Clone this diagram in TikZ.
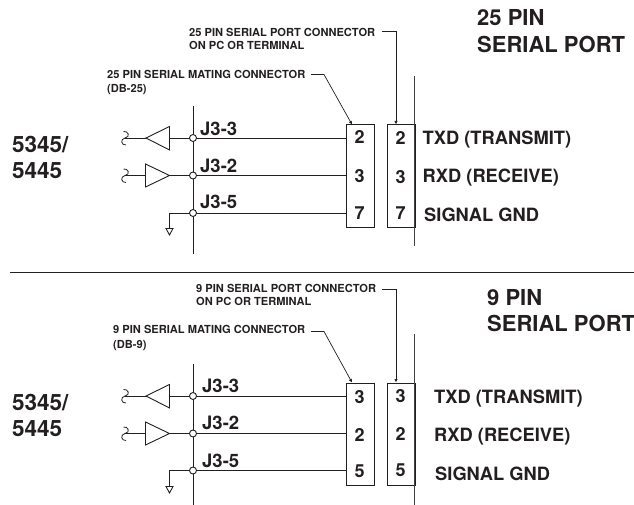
\documentclass[tikz,border=0pt]{standalone}
\usepackage{fontspec}
\setmainfont{TeX Gyre Heros}
\usetikzlibrary{arrows.meta}
\definecolor{ink}{HTML}{231F20}
\tikzset{
  wire/.style={draw=ink,line width=0.9pt},
  lbl/.style={font=\bfseries\fontsize{#1}{#1}\selectfont,text=ink,inner sep=0pt,anchor=west,text height=0.72*#1 pt,text depth=0pt},
  pinbox/.style={draw=ink,line width=0.9pt,anchor=north west,minimum width=27.5pt,minimum height=102pt,inner sep=0pt},
  jdot/.style={circle,draw=ink,fill=white,line width=0.9pt,minimum size=7pt,inner sep=0pt},
  amp/.style={draw=ink,line width=0.9pt,fill=white,line join=miter},
  lead/.style={draw=ink,line width=0.7pt,-{Latex[length=3.5pt,width=3.5pt]}},
}
\newcommand{\squig}[1]{\draw[wire,line width=0.8pt,shift={(#1)}] (-1.5,-6.5) .. controls (3,-7.5) and (6,-1) .. (0,0) .. controls (-5,1) and (-4,7.5) .. (1,7);}
\begin{document}
\begin{tikzpicture}[x=1pt,y=-1pt]
\useasboundingbox (0,0) rectangle (634,505);
% ---------- top panel
\node[lbl=22] (ta1) at (477,18) {25 PIN};
\node[lbl=22] (ta2) at (477,44.5) {SERIAL PORT};
\node[lbl=22.5] (ma1) at (12,144) {5345/};
\node[lbl=22.5] (ma2) at (12,170) {5445};
\node[lbl=11.1] (pc1) at (189,33) {25 PIN SERIAL PORT CONNECTOR};
\node[lbl=11.1] (pc2) at (189,46) {ON PC OR TERMINAL};
\node[lbl=11.1] (mc1) at (107,75) {25 PIN SERIAL MATING CONNECTOR};
\node[lbl=11.1] (mc2) at (107,89) {(DB-25)};
\node[pinbox] (ba) at (346,124.5) {};
\node[pinbox] (bb) at (387,124.5) {};
\coordinate (bbtop) at (396,124.5);
\coordinate (batop) at (352,124.5);
\coordinate (la) at (382,31.5);
\coordinate (lb) at (396,31.5);
\coordinate (lc) at (311,74.5);
\coordinate (ld) at (324,74.5);
\draw[lead] (la) -- (lb) -- (bbtop);
\draw[lead] (lc) -- (ld) -- (batop);
\coordinate (bust) at (193,106);
\coordinate (busb) at (193,254);
\coordinate (pt) at (414,76);
\coordinate (pb) at (414,246);
\draw[wire] (bust) -- (busb);
\draw[wire,draw=ink!85] (pt) -- (pb);
\coordinate (ja) at (193,138);
\coordinate (jb) at (193,175.5);
\coordinate (jc) at (193,213);
\draw[wire] (ja) -- (ja -| ba.west);
\draw[wire] (jb) -- (jb -| ba.west);
\draw[wire] (jc) -- (jc -| ba.west);
\draw[wire] (125,138) -- (ja);
\draw[wire] (125,175.5) -- (jb);
\draw[amp] (146,138) -- (169.5,126.5) -- (169.5,150) -- cycle;
\draw[amp] (169.5,175.5) -- (145.5,164) -- (145.5,187) -- cycle;
\draw[wire] (jc) -- (169.5,213) -- (169.5,228);
\draw[amp] (166,228.5) -- (173,228.5) -- (169.5,235) -- cycle;
\squig{125,138}
\squig{125,175.5}
\node[jdot] (da) at (ja) {};
\node[jdot] (db) at (jb) {};
\node[jdot] (dc) at (jc) {};
\node[lbl=18.5] (ja3) at (200,129) {J3-3};
\node[lbl=18.5] (ja2) at (200,165.5) {J3-2};
\node[lbl=18.5] (ja5) at (200,201.5) {J3-5};
\node[lbl=18,anchor=center] (n1) at (359.5,137.5) {2};
\node[lbl=18,anchor=center] (n2) at (359.5,176) {3};
\node[lbl=18,anchor=center] (n3) at (359.5,213) {7};
\node[lbl=18,anchor=center] (n4) at (400.5,138) {2};
\node[lbl=18,anchor=center] (n5) at (400.5,177) {3};
\node[lbl=18,anchor=center] (n6) at (400.5,213) {7};
\node[lbl=18.3] (s1) at (422.5,138) {TXD (TRANSMIT)};
\node[lbl=18.3] (s2) at (422.5,176) {RXD (RECEIVE)};
\node[lbl=18.3] (s3) at (424,214.5) {SIGNAL GND};
% ---------- separator
\coordinate (sa) at (10,272);
\coordinate (sb) at (634,272);
\draw[wire] (sa) -- (sb);
% ---------- bottom panel
\node[lbl=22] (tb1) at (487,297.5) {9 PIN};
\node[lbl=22] (tb2) at (487,324) {SERIAL PORT};
\node[lbl=22.5] (mb1) at (12,402) {5345/};
\node[lbl=22.5] (mb2) at (12,428) {5445};
\node[lbl=11.1] (qc1) at (196,289) {9 PIN SERIAL PORT CONNECTOR};
\node[lbl=11.1] (qc2) at (196,302) {ON PC OR TERMINAL};
\node[lbl=11.1] (rc1) at (113,330) {9 PIN SERIAL MATING CONNECTOR};
\node[lbl=11.1] (rc2) at (113,344.5) {(DB-9)};
\node[pinbox] (ca) at (346,382.5) {};
\node[pinbox] (cb) at (387,382.5) {};
\coordinate (cbtop) at (396,382.5);
\coordinate (catop) at (352,382.5);
\coordinate (lk) at (382,289.5);
\coordinate (ll) at (396,289.5);
\coordinate (lm) at (311,331.5);
\coordinate (ln) at (324,331.5);
\draw[lead] (lk) -- (ll) -- (cbtop);
\draw[lead] (lm) -- (ln) -- (catop);
\coordinate (busc) at (193,364);
\coordinate (busd) at (193,505);
\coordinate (pc) at (414,334);
\coordinate (pd) at (414,505);
\draw[wire] (busc) -- (busd);
\draw[wire,draw=ink!85] (pc) -- (pd);
\coordinate (ka) at (193,396);
\coordinate (kb) at (193,433.5);
\coordinate (kc) at (193,470.5);
\draw[wire] (ka) -- (ka -| ca.west);
\draw[wire] (kb) -- (kb -| ca.west);
\draw[wire] (kc) -- (kc -| ca.west);
\draw[wire] (125,396) -- (ka);
\draw[wire] (125,433.5) -- (kb);
\draw[amp] (146,396) -- (169.5,384.5) -- (169.5,408) -- cycle;
\draw[amp] (169.5,433.5) -- (145.5,422) -- (145.5,445) -- cycle;
\draw[wire] (kc) -- (169.5,470.5) -- (169.5,486);
\draw[amp] (166,486.5) -- (173,486.5) -- (169.5,493) -- cycle;
\squig{125,396}
\squig{125,433.5}
\node[jdot] (ea) at (ka) {};
\node[jdot] (eb) at (kb) {};
\node[jdot] (ec) at (kc) {};
\node[lbl=18.5] (ka3) at (202,385.5) {J3-3};
\node[lbl=18.5] (ka2) at (202,423) {J3-2};
\node[lbl=18.5] (ka5) at (202,460.5) {J3-5};
\node[lbl=18,anchor=center] (o1) at (359.5,397) {3};
\node[lbl=18,anchor=center] (o2) at (359.5,435) {2};
\node[lbl=18,anchor=center] (o3) at (359.5,471.5) {5};
\node[lbl=18,anchor=center] (o4) at (400.5,396) {3};
\node[lbl=18,anchor=center] (o5) at (400.5,434) {2};
\node[lbl=18,anchor=center] (o6) at (400.5,470.5) {5};
\node[lbl=18.3] (u1) at (434,397) {TXD (TRANSMIT)};
\node[lbl=18.3] (u2) at (434,435) {RXD (RECEIVE)};
\node[lbl=18.3] (u3) at (435,473.5) {SIGNAL GND};
\end{tikzpicture}
\end{document}
